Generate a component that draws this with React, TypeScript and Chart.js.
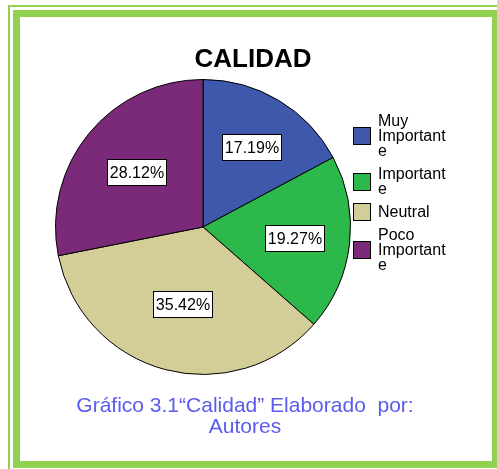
import React, { useEffect, useRef } from "react";
import { Chart, registerables } from "chart.js";

Chart.register(...registerables);

const categories = ["Muy Importante", "Importante", "Neutral", "Poco Importante"];
const percentages = [17.19, 19.27, 35.42, 28.12];
const sliceColors = ["#3E58AC", "#2DB84C", "#D3CE97", "#7B2979"];
const chartTitle = "CALIDAD";
const captionLines = ["Gráfico 3.1“Calidad” Elaborado  por:", "Autores"];

const FONT = '"Liberation Sans", Arial, Helvetica, sans-serif';
const FRAME_GREEN = "#92D050";
const CAPTION_COLOR = "#5B5BF0";

function wrapText(ctx: CanvasRenderingContext2D, text: string, maxWidth: number): string[] {
  const words = text.split(" ");
  const lines: string[] = [];
  let current = "";
  for (const word of words) {
    const trial = current ? current + " " + word : word;
    if (ctx.measureText(trial).width <= maxWidth) {
      current = trial;
      continue;
    }
    if (current) lines.push(current);
    current = "";
    if (ctx.measureText(word).width <= maxWidth) {
      current = word;
    } else {
      let piece = "";
      for (const ch of word) {
        if (ctx.measureText(piece + ch).width > maxWidth && piece) {
          lines.push(piece);
          piece = ch;
        } else {
          piece += ch;
        }
      }
      current = piece;
    }
  }
  if (current) lines.push(current);
  return lines;
}

const overlayPlugin = {
  id: "overlay",
  afterDraw(chart: any) {
    const ctx: CanvasRenderingContext2D = chart.ctx;
    const area = chart.chartArea;
    ctx.save();

    // Title
    ctx.fillStyle = "#000";
    ctx.font = `bold 26px ${FONT}`;
    ctx.textAlign = "center";
    ctx.textBaseline = "alphabetic";
    ctx.fillText(chartTitle, 253, 67);

    // Value labels
    const meta = chart.getDatasetMeta(0);
    ctx.font = `16px ${FONT}`;
    meta.data.forEach((arc: any, i: number) => {
      const p = arc.getProps(["x", "y", "startAngle", "endAngle", "outerRadius"], true);
      const theta = p.endAngle - p.startAngle;
      const mid = (p.startAngle + p.endAngle) / 2;
      const d = (4 * p.outerRadius * Math.sin(theta / 2)) / (3 * theta);
      const cx = p.x + Math.cos(mid) * d;
      const cy = p.y + Math.sin(mid) * d;
      const text = percentages[i].toFixed(2) + "%";
      const w = Math.round(ctx.measureText(text).width + 5);
      const h = 26;
      const bx = Math.round(cx - w / 2) + 0.5;
      const by = Math.round(cy - h / 2) + 0.5;
      ctx.fillStyle = "#fff";
      ctx.fillRect(bx, by, w, h);
      ctx.strokeStyle = "#000";
      ctx.lineWidth = 1;
      ctx.strokeRect(bx, by, w, h);
      ctx.fillStyle = "#000";
      ctx.textAlign = "center";
      ctx.textBaseline = "middle";
      ctx.fillText(text, bx + w / 2, by + h / 2 + 1);
    });

    // Legend
    ctx.font = `16px ${FONT}`;
    ctx.textAlign = "left";
    ctx.textBaseline = "alphabetic";
    const boxX = area.right + 2.5;
    const textX = area.right + 27;
    const pitch = 15;
    let baseline = 126;
    categories.forEach((cat, i) => {
      const lines = wrapText(ctx, cat, 72);
      const first = baseline;
      const last = baseline + (lines.length - 1) * pitch;
      const boxCy = (first + last) / 2 - 5.5;
      const by = Math.round(boxCy - 8.5) + 0.5;
      ctx.fillStyle = sliceColors[i];
      ctx.fillRect(boxX, by, 17, 17);
      ctx.strokeStyle = "#000";
      ctx.lineWidth = 1;
      ctx.strokeRect(boxX, by, 17, 17);
      ctx.fillStyle = "#000";
      lines.forEach((ln, j) => ctx.fillText(ln, textX, first + j * pitch));
      baseline = last + 23;
    });

    // Caption
    ctx.fillStyle = CAPTION_COLOR;
    ctx.font = `21px ${FONT}`;
    ctx.textAlign = "center";
    captionLines.forEach((ln, j) => ctx.fillText(ln, 245, 412 + j * 21));

    ctx.restore();
  },
};

export default function App() {
  const canvasRef = useRef<HTMLCanvasElement | null>(null);

  useEffect(() => {
    if (!canvasRef.current) return;
    const chart = new Chart(canvasRef.current, {
      type: "pie",
      data: {
        labels: categories,
        datasets: [
          {
            data: percentages,
            backgroundColor: sliceColors,
            borderColor: "#000",
            borderWidth: 1,
          },
        ],
      },
      options: {
        responsive: false,
        animation: false,
        events: [],
        layout: { padding: { left: 55, top: 79, right: 146, bottom: 94 } },
        plugins: {
          legend: { display: false },
          title: { display: false },
          tooltip: { enabled: false },
        },
      },
      plugins: [overlayPlugin],
    } as any);
    return () => chart.destroy();
  }, []);

  return (
    <div
      style={{
        position: "absolute",
        left: 0,
        top: 0,
        width: 497,
        height: 469,
        overflow: "hidden",
        background: "#fff",
      }}
    >
      <div style={{ position: "absolute", left: 8, top: 5, width: 500, height: 2, background: FRAME_GREEN }} />
      <div style={{ position: "absolute", left: 8, top: 5, width: 2, height: 470, background: FRAME_GREEN }} />
      <div
        style={{
          position: "absolute",
          left: 13,
          top: 10,
          width: 486,
          height: 458,
          boxSizing: "border-box",
          border: `7px solid ${FRAME_GREEN}`,
        }}
      />
      <canvas
        ref={canvasRef}
        width={497}
        height={469}
        style={{ position: "absolute", left: 0, top: 0 }}
      />
    </div>
  );
}
